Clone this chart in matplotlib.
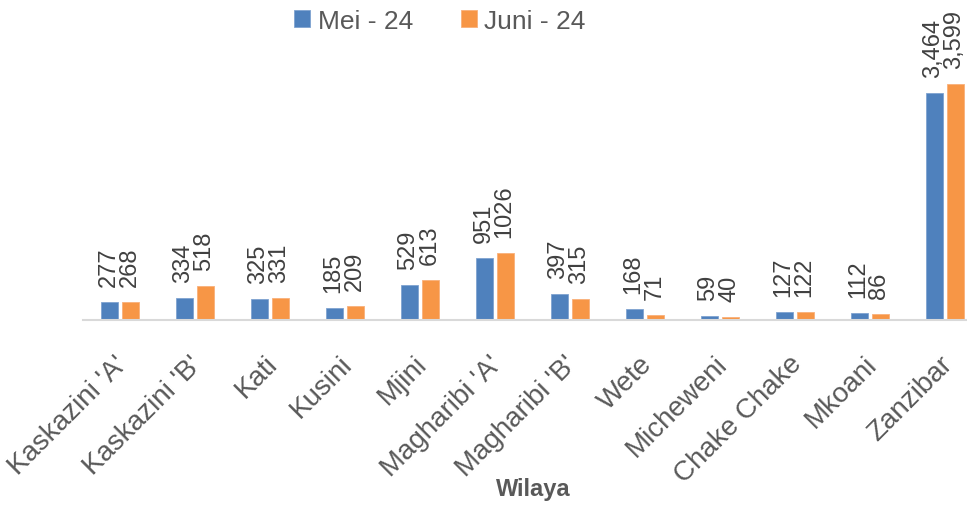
import matplotlib
matplotlib.use("Agg")
import matplotlib.pyplot as plt
import matplotlib.transforms as mtransforms
import numpy as np

categories = ["Kaskazini 'A'", "Kaskazini 'B'", "Kati", "Kusini", "Mjini",
              "Magharibi 'A'", "Magharibi 'B'", "Wete", "Micheweni",
              "Chake Chake", "Mkoani", "Zanzibar"]
mei = [277, 334, 325, 185, 529, 951, 397, 168, 59, 127, 112, 3464]
juni = [268, 518, 331, 209, 613, 1026, 315, 71, 40, 122, 86, 3599]
mei_labels = ["277", "334", "325", "185", "529", "951", "397", "168", "59", "127", "112", "3,464"]
juni_labels = ["268", "518", "331", "209", "613", "1026", "315", "71", "40", "122", "86", "3,599"]
series_names = ["Mei - 24", "Juni - 24"]

plt.rcParams['font.family'] = ['Liberation Sans', 'DejaVu Sans']

W, H = 967, 506
fig = plt.figure(figsize=(W / 100, H / 100), dpi=100)
left_px, right_px, bottom_px, top_px = 82.5, 982.5, 321, 0
ax = fig.add_axes([left_px / W, 1 - bottom_px / H, (right_px - left_px) / W, (bottom_px - top_px) / H])

x = np.arange(len(categories))
bw = 0.23
off = 0.14
blue = "#4F81BD"
orange = "#F79646"
b1 = ax.bar(x - off, mei, bw, color=blue, edgecolor="#7FA3D1", linewidth=0.6, label=series_names[0])
b2 = ax.bar(x + off, juni, bw, color=orange, edgecolor="#F9B07A", linewidth=0.6, label=series_names[1])

# scale: 3599 -> 236 px
ymax = 3599 / 236 * (bottom_px - top_px)
ax.set_ylim(0, ymax)
ax.set_xlim(-0.5, len(categories) - 0.5)

for rects, labs in ((b1, mei_labels), (b2, juni_labels)):
    for r, lab in zip(rects, labs):
        ax.annotate(lab, (r.get_x() + r.get_width() / 2, r.get_height()),
                    xytext=(-1, 16), textcoords="offset pixels",
                    rotation=90, ha="center", va="bottom", fontsize=17,
                    color="#404040")

for s in ["top", "right", "left"]:
    ax.spines[s].set_visible(False)
ax.spines["bottom"].set_color("#D9D9D9")
ax.spines["bottom"].set_linewidth(1.5)
ax.set_yticks([])
ax.set_xticks(x)
ax.set_xticklabels(categories, rotation=45, ha="right", va="top",
                   rotation_mode="anchor", fontsize=20, color="#595959")
ax.tick_params(axis="x", length=0, pad=22)
shift = mtransforms.ScaledTranslation(-6 / 100, 0, fig.dpi_scale_trans)
for lab in ax.get_xticklabels():
    lab.set_transform(lab.get_transform() + shift)

fig.text(533 / W, 1 - 490 / H, "Wilaya", ha="center", va="center",
         fontsize=17, fontweight="bold", color="#595959")

leg = fig.legend(handles=[b1, b2], loc="center", bbox_to_anchor=(440 / W, 1 - 22 / H),
                 ncol=2, frameon=False, fontsize=19, handlelength=0.6, handleheight=0.6,
                 columnspacing=1.8, handletextpad=0.3, labelcolor="#595959")

fig.savefig("out.png", dpi=100)
